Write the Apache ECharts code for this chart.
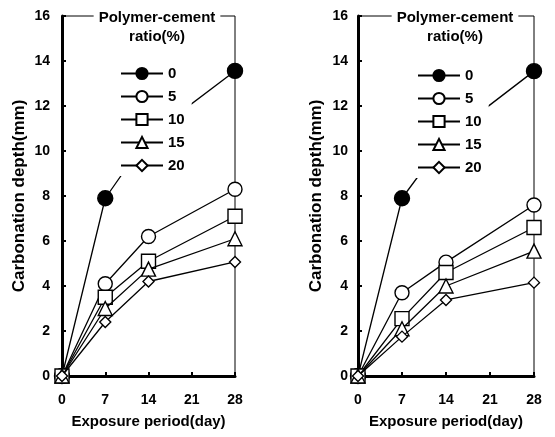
<!DOCTYPE html>
<html><head><meta charset="utf-8">
<script src="https://cdn.jsdelivr.net/npm/echarts@6/dist/echarts.min.js"></script>
<style>html,body{margin:0;padding:0;background:#fff}#c{width:555px;height:437px}</style>
</head><body><div id="c"></div>
<script>
const days = [0, 7, 14, 28];
const xTicks = [0, 7, 14, 21, 28];
const ratios = ['0', '5', '10', '15', '20'];
const legendTitle = 'Polymer-cement\nratio(%)';
const xName = 'Exposure period(day)';
const yName = 'Carbonation depth(mm)';
// left panel
const left0 = [0, 7.9, 10.65, 13.56];
const left5 = [0, 4.1, 6.2, 8.3];
const left10 = [0, 3.5, 5.1, 7.1];
const left15 = [0, 3.0, 4.75, 6.1];
const left20 = [0, 2.4, 4.2, 5.07];
// right panel
const right0 = [0, 7.9, 10.55, 13.55];
const right5 = [0, 3.7, 5.06, 7.6];
const right10 = [0, 2.55, 4.6, 6.6];
const right15 = [0, 2.1, 4.0, 5.55];
const right20 = [0, 1.75, 3.38, 4.15];

const leftData = [left0, left5, left10, left15, left20];
const rightData = [right0, right5, right10, right15, right20];
const symbols = ['circle', 'circle', 'rect', 'triangle', 'diamond'];
const sizes = [15, 14, 14, 14, 11];
const fills = ['#000', '#fff', '#fff', '#fff', '#fff'];

function mkSeries(data, gi) {
  return data.map((vals, i) => ({
    name: ratios[i], type: 'line', xAxisIndex: gi, yAxisIndex: gi,
    data: vals.map((v, k) => [days[k], v]),
    symbol: symbols[i], symbolSize: sizes[i], clip: false,
    lineStyle: { color: '#000', width: 1.3 },
    itemStyle: { color: fills[i], borderColor: '#000', borderWidth: 1.4 },
    emphasis: { disabled: true }, z: 2 + i, animation: false
  }));
}
const grids = [
  { left: 62, width: 173, top: 16, bottom: 61 },
  { left: 358, width: 176, top: 16, bottom: 61 }
];
const font = 'Liberation Sans, Arial, sans-serif';
function xAx(gi) {
  return {
    type: 'value', gridIndex: gi, min: 0, max: 28, interval: 7,
    name: xName, nameLocation: 'middle', nameGap: 38,
    nameTextStyle: { fontSize: 15, fontWeight: 'bold', color: '#000', fontFamily: font },
    axisLine: { lineStyle: { color: '#000', width: 3 } },
    axisTick: { inside: true, length: 4, lineStyle: { color: '#000', width: 2 } },
    axisLabel: { margin: 17, fontSize: 14, fontWeight: 'bold', color: '#000', fontFamily: font,
      formatter: v => xTicks.includes(v) ? String(v) : '' },
    splitLine: { show: false }
  };
}
function yAx(gi, gap, m) {
  return {
    type: 'value', gridIndex: gi, min: 0, max: 16, interval: 2,
    name: yName, nameLocation: 'middle', nameGap: gap,
    nameTextStyle: { fontSize: 17, fontWeight: 'bold', color: '#000', fontFamily: font },
    axisLine: { lineStyle: { color: '#000', width: 3 } },
    axisTick: { inside: true, length: 4, lineStyle: { color: '#000', width: 2 } },
    axisLabel: { margin: m, fontSize: 14, fontWeight: 'bold', color: '#000', fontFamily: font },
    splitLine: { show: false }
  };
}
function legend(left, top) {
  return {
    data: ratios, orient: 'vertical', left: left, top: top,
    itemWidth: 42, itemHeight: 14, itemGap: 8, itemTextGap: 3,
    padding: [8, 7, 3, 3], backgroundColor: '#fff', selectedMode: false,
    textStyle: { fontSize: 15, fontWeight: 'bold', color: '#000', fontFamily: font }
  };
}
function title(x) {
  return {
    text: legendTitle, left: x, top: 6, textAlign: 'center',
    backgroundColor: '#fff', padding: [2, 5, 2, 5],
    textStyle: { fontSize: 15, fontWeight: 'bold', color: '#000', lineHeight: 19, fontFamily: font }
  };
}
const chart = echarts.init(document.getElementById('c'));
chart.setOption({
  animation: false,
  backgroundColor: '#fff',
  grid: grids.map(g => Object.assign({ show: true, borderColor: '#000', borderWidth: 1, backgroundColor: 'transparent' }, g)),
  xAxis: [xAx(0), xAx(1)],
  yAxis: [yAx(0, 34, 12), yAx(1, 33, 10)],
  title: [title(152), title(450)],
  legend: [legend(117, 58), legend(414, 60)],
  series: mkSeries(leftData, 0).concat(mkSeries(rightData, 1))
});
</script></body></html>
